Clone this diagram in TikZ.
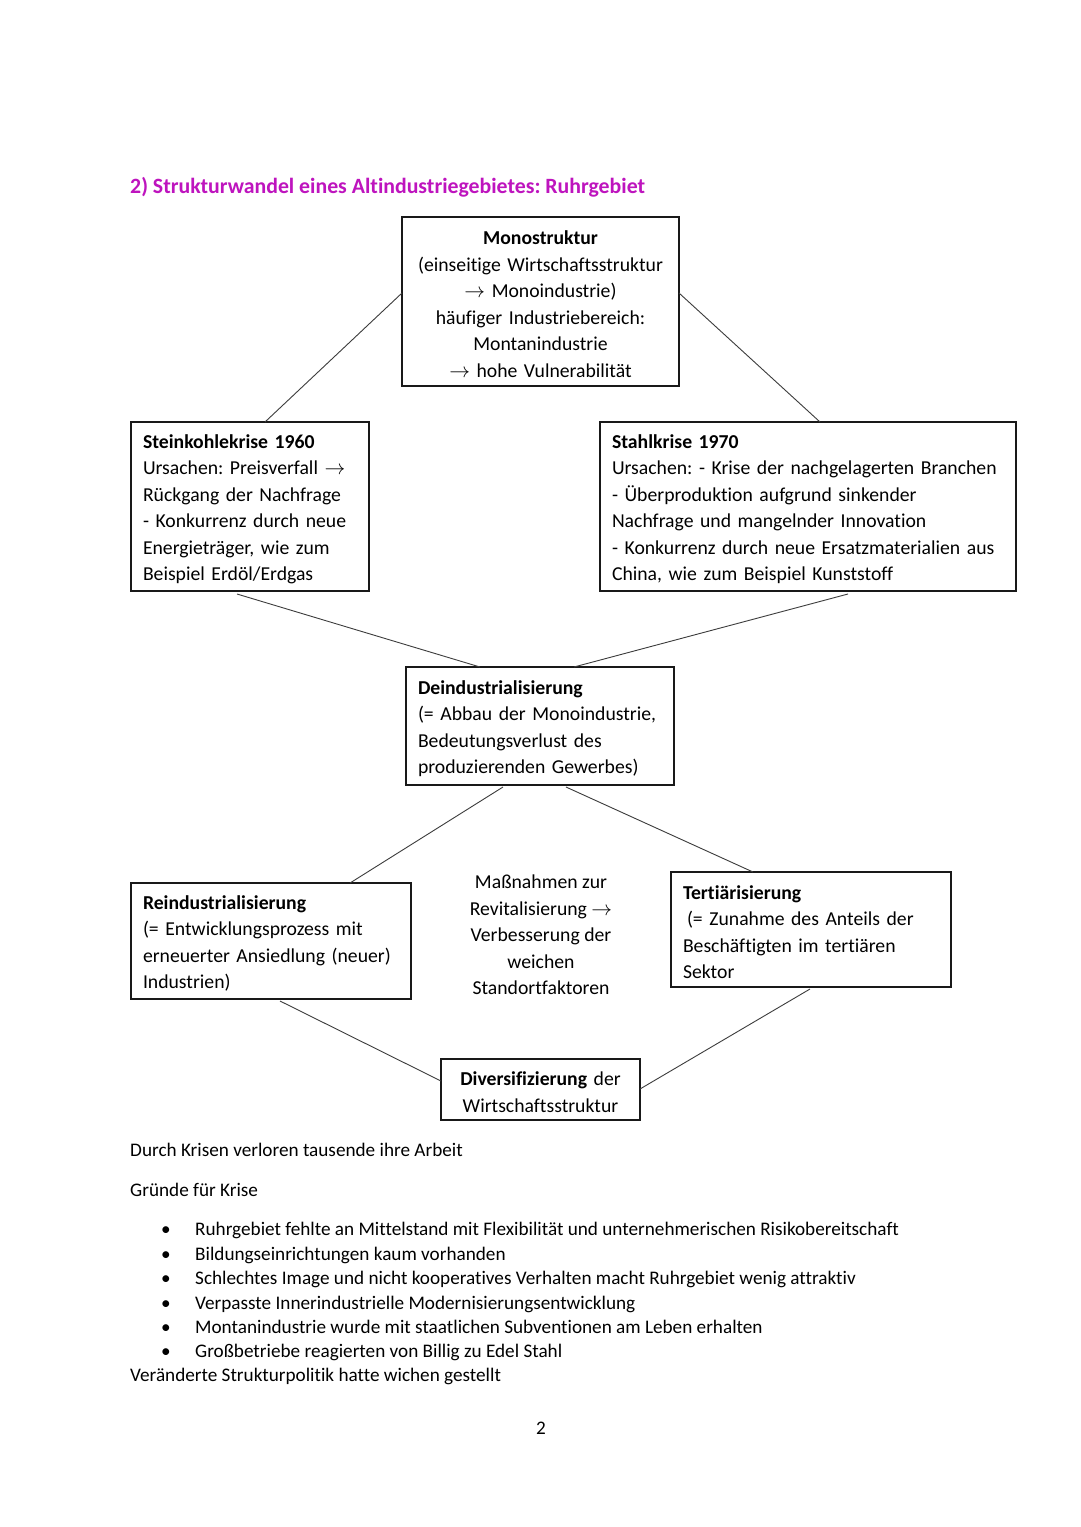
\documentclass[tikz,border=0pt]{standalone}
\usepackage{fontspec}
\setmainfont{Carlito}[Ligatures=NoCommon]
\usetikzlibrary{calc}
\definecolor{titlemag}{RGB}{190,20,190}
\definecolor{boxline}{RGB}{25,25,25}
\definecolor{conline}{RGB}{60,60,60}
\tikzset{
  boxnode/.style={draw=boxline, line width=1.7pt, outer sep=0pt, inner xsep=12pt, inner ysep=0pt,
    anchor=north west, align=left, font=\fontsize{19.7}{26.5}\selectfont, text=black,
    execute at begin node={\rule{0pt}{19pt}}},
  cboxnode/.style={boxnode, align=center},
  plaintext/.style={font=\fontsize{19.7}{26.5}\selectfont, text=black, inner sep=0pt},
  bodytext/.style={font=\fontsize{19.2}{22}\selectfont, text=black, inner sep=0pt, anchor=base west},
  conn/.style={draw=conline, line width=0.9pt}
}
\begin{document}
\frenchspacing
\begin{tikzpicture}[x=1pt,y=-1pt]
\path[use as bounding box, fill=white] (0,0) rectangle (1080,1527);

\node[font=\fontsize{21.8}{24}\selectfont\bfseries, text=titlemag, inner sep=0pt, anchor=base west] (title) at (130,193) {2) Strukturwandel eines Altindustriegebietes: Ruhrgebiet};

\node[cboxnode, text width=253pt, minimum height=169pt] (mono) at (402,217)
  {\textbf{Monostruktur}\\(einseitige Wirtschaftsstruktur\\$\rightarrow$ Monoindustrie)\\häufiger Industriebereich:\\Montanindustrie\\$\rightarrow$ hohe Vulnerabilität};

\node[boxnode, text width=214pt, minimum height=169pt] (stein) at (131,422)
  {\textbf{Steinkohlekrise 1960}\\Ursachen: Preisverfall $\rightarrow$\\Rückgang der Nachfrage\\- Konkurrenz durch neue\\Energieträger, wie zum\\Beispiel Erdöl/Erdgas};

\node[boxnode, text width=392pt, minimum height=169pt] (stahl) at (600,422)
  {\textbf{Stahlkrise 1970}\\Ursachen: - Krise der nachgelagerten Branchen\\- Überproduktion aufgrund sinkender\\Nachfrage und mangelnder Innovation\\- Konkurrenz durch neue Ersatzmaterialien aus\\China, wie zum Beispiel Kunststoff};

\node[boxnode, text width=244pt, minimum height=118pt] (deind) at (406,667)
  {\textbf{Deindustrialisierung}\\(= Abbau der Monoindustrie,\\Bedeutungsverlust des\\produzierenden Gewerbes)};

\node[boxnode, text width=256pt, minimum height=116pt] (reind) at (131,883)
  {\textbf{Reindustrialisierung}\\(= Entwicklungsprozess mit\\erneuerter Ansiedlung (neuer)\\Industrien)};

\node[plaintext, align=center] (mass) at (541,935)
  {Maßnahmen zur\\Revitalisierung $\rightarrow$\\Verbesserung der\\weichen\\Standortfaktoren};

\node[boxnode, text width=256pt, minimum height=115pt] (tert) at (671,872)
  {\textbf{Tertiärisierung}\\\hspace*{4pt}(= Zunahme des Anteils der\\Beschäftigten im tertiären\\Sektor};

\node[cboxnode, text width=175pt, minimum height=61pt] (divers) at (441,1059)
  {\textbf{Diversifizierung} der\\Wirtschaftsstruktur};

% connectors
\draw[conn] ($(mono.north west)+(0,76)$) -- ($(stein.north west)+(134,0)$);
\draw[conn] ($(mono.north east)+(0,76)$) -- ($(stahl.north west)+(220,0)$);
\draw[conn] ($(stein.south west)+(106,3)$) -- ($(deind.north west)+(74,0)$);
\draw[conn] ($(stahl.south west)+(248,3)$) -- ($(deind.north west)+(168,0)$);
\draw[conn] ($(deind.south west)+(97,2)$) -- ($(reind.north west)+(219,0)$);
\draw[conn] ($(deind.south west)+(160,2)$) -- ($(tert.north west)+(82,0)$);
\draw[conn] ($(reind.south west)+(149,2)$) -- ($(divers.north west)+(0,22)$);
\draw[conn] ($(tert.south west)+(139,2)$) -- ($(divers.north east)+(0,30)$);

% text below
\node[bodytext] (t1) at (130,1156) {Durch Krisen verloren tausende ihre Arbeit};
\node[bodytext] (t2) at (130,1196) {Gründe für Krise};
\node[bodytext] (b1) at (161,1235) {•};
\node[bodytext] (l1) at (195,1235) {Ruhrgebiet fehlte an Mittelstand mit Flexibilität und unternehmerischen Risikobereitschaft};
\node[bodytext] (b2) at (161,1260) {•};
\node[bodytext] (l2) at (195,1260) {Bildungseinrichtungen kaum vorhanden};
\node[bodytext] (b3) at (161,1284) {•};
\node[bodytext] (l3) at (195,1284) {Schlechtes Image und nicht kooperatives Verhalten macht Ruhrgebiet wenig attraktiv};
\node[bodytext] (b4) at (161,1309) {•};
\node[bodytext] (l4) at (195,1309) {Verpasste Innerindustrielle Modernisierungsentwicklung};
\node[bodytext] (b5) at (161,1333) {•};
\node[bodytext] (l5) at (195,1333) {Montanindustrie wurde mit staatlichen Subventionen am Leben erhalten};
\node[bodytext] (b6) at (161,1357) {•};
\node[bodytext] (l6) at (195,1357) {Großbetriebe reagierten von Billig zu Edel Stahl};
\node[bodytext] (t3) at (130,1381) {Veränderte Strukturpolitik hatte wichen gestellt};

\node[plaintext, font=\fontsize{19.2}{22}\selectfont, anchor=base] (page) at (541,1434) {2};
\end{tikzpicture}
\end{document}
